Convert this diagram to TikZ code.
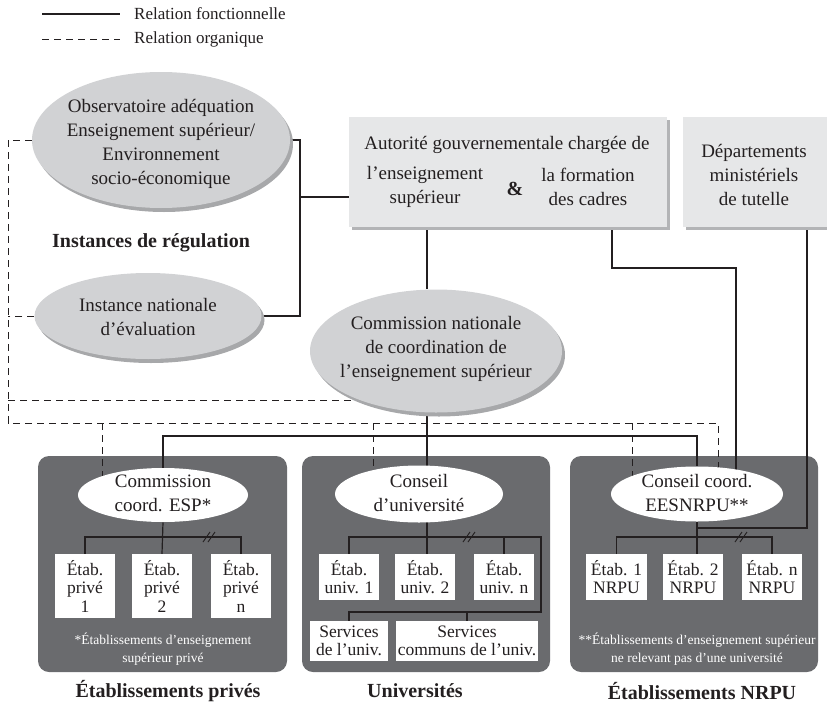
\documentclass[tikz,border=0pt]{standalone}
\usepackage{fontspec}
\setmainfont{Liberation Serif}
\usetikzlibrary{shapes.geometric,shadows,calc}
\pgfdeclarelayer{bg}
\pgfdeclarelayer{mid}
\pgfsetlayers{bg,mid,main}
\definecolor{ink}{HTML}{231F20}
\definecolor{ellfill}{HTML}{D1D2D4}
\definecolor{ellshadow}{HTML}{A7A8AA}
\definecolor{boxfill}{HTML}{E6E7E8}
\definecolor{boxshadow}{HTML}{B3B4B6}
\definecolor{darkpanel}{HTML}{6A6B6E}
\newcommand\fszA{\fontsize{19}{24}\selectfont}
\newcommand\fszB{\fontsize{17.5}{18.5}\selectfont}
\newcommand\fszC{\fontsize{13.5}{18}\selectfont}
\newcommand\fszD{\fontsize{17}{18}\selectfont}
\newcommand\fszE{\fontsize{20}{24}\selectfont\bfseries}
\begin{document}
\begin{tikzpicture}[x=1pt,y=-1pt,
  txt/.style={text=ink,align=center,font=\fszA,inner sep=0pt},
  foot/.style={text=white,align=center,font=\fszC,inner sep=0pt},
  legtxt/.style={text=ink,anchor=west,font=\fszD,inner sep=0pt},
  heading/.style={text=ink,align=center,font=\fszE,inner sep=0pt},
  gell/.style={ellipse,fill=ellfill,inner sep=0pt,
    drop shadow={shadow xshift=3pt,shadow yshift=-4pt,fill=ellshadow,opacity=1}},
  well/.style={ellipse,fill=white,inner sep=0pt},
  gbox/.style={rectangle,fill=boxfill,inner sep=0pt,
    drop shadow={shadow xshift=3pt,shadow yshift=-3pt,fill=boxshadow,opacity=1}},
  wbox/.style={rectangle,fill=white,inner sep=0pt,text=ink,align=center,font=\fszB},
  panel/.style={rectangle,fill=darkpanel,rounded corners=11pt,inner sep=0pt},
  fl/.style={draw=ink,line width=1.2pt},
  ol/.style={draw=ink,line width=1pt,dash pattern=on 7pt off 5pt},
  brk/.style={draw=ink,line width=0.9pt}]
\useasboundingbox (0,0) rectangle (827,704);

% legend
\coordinate (la1) at (42,14);
\coordinate (lb1) at (120,14);
\coordinate (la2) at (42,39);
\coordinate (lb2) at (120,39);
\draw[fl] (la1) -- (lb1);
\draw[ol] (la2) -- (lb2);
\node[legtxt] (leg1) at (134,14) {Relation fonctionnelle};
\node[legtxt] (leg2) at (134,39) {Relation organique};

% panels
\begin{pgfonlayer}{bg}
\node[panel,minimum width=249pt,minimum height=216pt] (p1) at (162.5,564) {};
\node[panel,minimum width=248pt,minimum height=216pt] (p2) at (426,564) {};
\node[panel,minimum width=248pt,minimum height=216pt] (p3) at (694,564) {};
\end{pgfonlayer}

% regulation ellipses
\node[gell,minimum width=258pt,minimum height=136pt] (obs) at (161,140) {};
\node[txt] (obst) at (161,144) {Observatoire adéquation\\Enseignement supérieur/\\Environnement\\socio-économique};
\node[heading] (reg) at (151,243) {Instances de régulation};
\node[gell,minimum width=227pt,minimum height=86pt] (ine) at (148,316) {};
\node[txt] (inet) at (148,317) {Instance nationale\\d’évaluation};

% authority boxes
\node[gbox,minimum width=318pt,minimum height=110pt] (aut) at (508,172) {};
\node[txt] (aut1) at (507,145) {Autorité gouvernementale chargée de};
\node[txt] (aut2) at (425,187) {l’enseignement\\supérieur};
\node[heading] (aut3) at (515,189) {\&};
\node[txt] (aut4) at (588,187) {la formation\\des cadres};
\node[gbox,minimum width=144pt,minimum height=110pt] (dep) at (754.5,172) {};
\node[txt] (dept) at (754,175) {Départements\\ministériels\\de tutelle};

% national commission
\node[gell,minimum width=252pt,minimum height=123pt] (cn) at (436,351) {};
\node[txt] (cnt) at (436,349) {Commission nationale\\de coordination de\\l’enseignement supérieur};

% inner ellipses
\node[well,minimum width=170pt,minimum height=54pt] (esp) at (163,495) {};
\node[txt] (espt) at (163,493) {Commission\\coord. ESP*};
\node[well,minimum width=168pt,minimum height=57pt] (cu) at (419,494) {};
\node[txt] (cut) at (419,493) {Conseil\\d’université};
\node[well,minimum width=172pt,minimum height=55pt] (nr) at (697,494) {};
\node[txt] (nrt) at (697,493) {Conseil coord.\\EESNRPU**};

% private boxes
\node[wbox,minimum width=60pt,minimum height=64pt] (pb1) at (85,586) {Étab.\\privé\\1};
\node[wbox,minimum width=60pt,minimum height=64pt] (pb2) at (162,586) {Étab.\\privé\\2};
\node[wbox,minimum width=60pt,minimum height=64pt] (pb3) at (241,586) {Étab.\\privé\\n};
\node[foot] (f1) at (163,649) {*Établissements d’enseignement\\supérieur privé};

% university boxes
\node[wbox,minimum width=60pt,minimum height=46pt] (u1) at (349,577) {Étab.\\univ. 1};
\node[wbox,minimum width=60pt,minimum height=46pt] (u2) at (425,577) {Étab.\\univ. 2};
\node[wbox,minimum width=60pt,minimum height=46pt] (u3) at (504,577) {Étab.\\univ. n};
\node[wbox,minimum width=78pt,minimum height=40pt] (s1) at (349,641) {Services\\de l’univ.};
\node[wbox,minimum width=142pt,minimum height=40pt] (s2) at (467,641) {Services\\communs de l’univ.};

% NRPU boxes
\node[wbox,minimum width=61pt,minimum height=46pt] (n1) at (616.5,577) {Étab. 1\\NRPU};
\node[wbox,minimum width=60pt,minimum height=46pt] (n2) at (693,577) {Étab. 2\\NRPU};
\node[wbox,minimum width=60pt,minimum height=46pt] (n3) at (772,577) {Étab. n\\NRPU};
\node[foot] (f3) at (697,649) {**Établissements d’enseignement supérieur\\ne relevant pas d’une université};

% headings
\node[heading] (h1) at (168,691) {Établissements privés};
\node[heading] (h2) at (415,691) {Universités};
\node[heading] (h3) at (702,691) {Établissements NRPU};

% connector helper coordinates
\coordinate (rg) at (300,197);
\coordinate (sx) at (427,0);
\coordinate (a2) at (612,0);
\coordinate (k1) at (736,268);
\coordinate (k2) at (807,528);
\coordinate (hl) at (0,436);
\coordinate (o1) at (8,423);
\coordinate (o2) at (718,423);
\coordinate (o3) at (8,400);
\coordinate (o4) at (102,423);
\coordinate (o5) at (373,423);
\coordinate (o6) at (632,423);
\coordinate (t1) at (0,537);
\coordinate (t2r) at (541,537);
\coordinate (r2) at (541,612);

\begin{pgfonlayer}{mid}
% functional relations
\draw[fl] (obs.east) -| (rg) |- (ine.east);
\draw[fl] (rg) -- (rg -| aut.west);
\draw[fl] (aut.south -| sx) -- (cn.north -| sx);
\draw[fl] (cn.south -| sx) -- (u2.north -| sx);
\draw[fl] (esp.north) |- (hl -| nr.north) -- (nr.north);
\draw[fl] (aut.south -| a2) |- (k1) -- (k1 |- nr.center);
\draw[fl] (dep.south -| k2) -- (k2) -- (k2 -| nr.south);
% private tree
\draw[fl] (esp.south) -- (pb2.north);
\draw[fl] (pb1.north) |- (t1 -| pb2.north) -| (pb3.north);
% university tree
\draw[fl] (u1.north) |- (t2r) -- (r2) -| (s1.north);
\draw[fl] (u3.north) -- (u3.north |- t2r);
\draw[fl] (s2.north) -- (s2.north |- r2);
% NRPU tree
\draw[fl] (nr.south) -- (n2.north -| nr.south);
\draw[fl] (n1.north) |- (t1 -| nr.south) -| (n3.north);
% organic relations
\draw[ol] (obs.west) -| (o1) -- (o2) -- (o2 |- nr.center);
\draw[ol] (ine.west) -- (ine.west -| o1);
\draw[ol] (o3) -- (o3 -| cn.center);
\draw[ol] (o4) -- (o4 |- esp.center);
\draw[ol] (o5) -- (o5 |- cu.center);
\draw[ol] (o6) -- (o6 |- nr.center);
% break marks
\foreach \bx in {207,467,739}{
  \draw[brk] (\bx-4,542) -- (\bx+3,532);
  \draw[brk] (\bx+1,542) -- (\bx+8,532);
}
\end{pgfonlayer}
\end{tikzpicture}
\end{document}
